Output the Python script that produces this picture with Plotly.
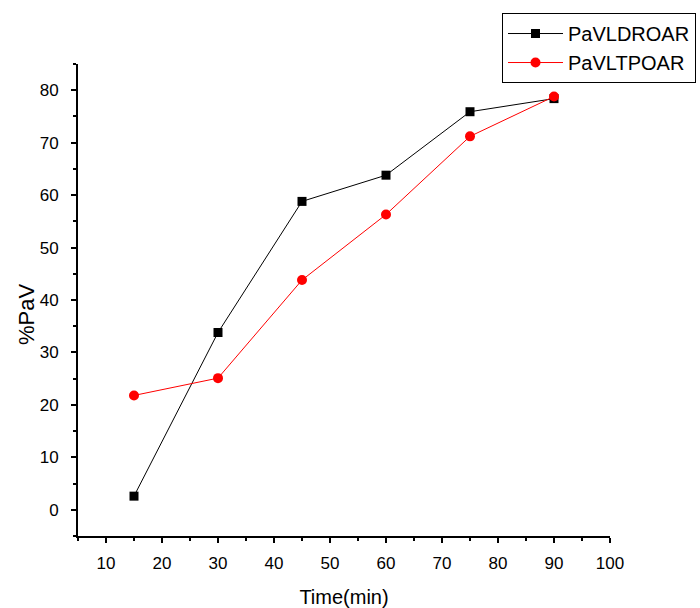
import plotly.graph_objects as go

time_min = [15, 30, 45, 60, 75, 90]
pavldroar = [2.6, 33.8, 58.8, 63.8, 75.9, 78.4]
pavltpoar = [21.8, 25.1, 43.8, 56.3, 71.2, 78.8]

fig = go.Figure()
fig.add_trace(go.Scatter(
    x=time_min, y=pavldroar, name="PaVLDROAR", mode="lines+markers",
    line=dict(color="black", width=1),
    marker=dict(symbol="square", size=9, color="black"),
))
fig.add_trace(go.Scatter(
    x=time_min, y=pavltpoar, name="PaVLTPOAR", mode="lines+markers",
    line=dict(color="red", width=1),
    marker=dict(symbol="circle", size=10, color="red"),
))

axis_common = dict(
    showline=True, linecolor="black", linewidth=2,
    ticks="outside", ticklen=5, tickwidth=2, tickcolor="black",
    showgrid=False, zeroline=False, mirror=False,
    tickfont=dict(family="Liberation Sans, Arial", size=17, color="black"),
    minor=dict(dtick=5, ticks="outside", ticklen=3, tickwidth=2, tickcolor="black", showgrid=False),
)

fig.update_layout(
    width=700, height=608,
    margin=dict(l=78, r=90, t=64, b=72, autoexpand=False),
    paper_bgcolor="white", plot_bgcolor="white",
    font=dict(family="Liberation Sans, Arial", color="black"),
    xaxis=dict(range=[5, 100], dtick=10, tick0=0, ticklabelstandoff=6,
               title=dict(text="Time(min)", font=dict(size=20), standoff=18),
               **axis_common),
    yaxis=dict(range=[-5, 85], dtick=10, tick0=0, ticklabelstandoff=9,
               **axis_common),
    legend=dict(
        x=0.797, y=1.108, xanchor="left", yanchor="top",
        bordercolor="black", borderwidth=1, bgcolor="white",
        font=dict(size=20, family="Liberation Sans, Arial"),
        tracegroupgap=0, itemwidth=55,
    ),
    showlegend=True,
    annotations=[dict(
        text="%PaV", textangle=-90, xref="paper", yref="paper",
        x=-0.098, y=0.47, xanchor="center", yanchor="middle",
        showarrow=False, font=dict(size=22, family="Liberation Sans, Arial", color="black"),
    )],
)

fig.write_html("out.html")
